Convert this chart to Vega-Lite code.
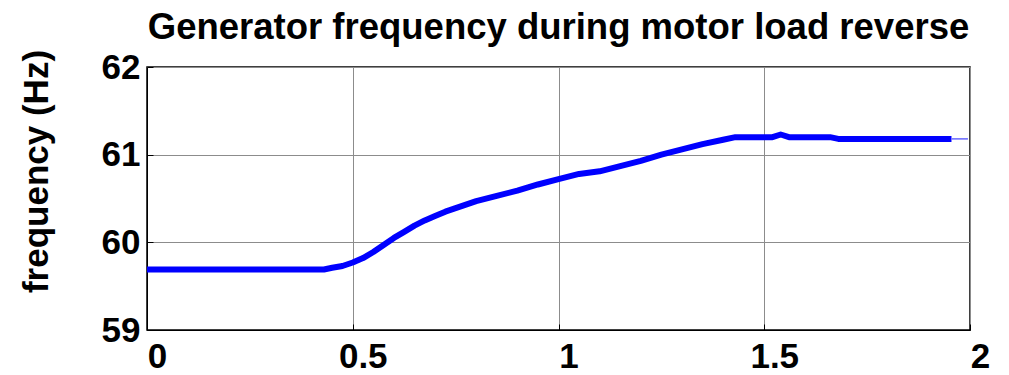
{
  "$schema": "https://vega.github.io/schema/vega-lite/v6.json",
  "autosize": {"type": "none"},
  "padding": {"left": 147, "top": 67, "right": 39, "bottom": 45},
  "width": 823,
  "height": 263,
  "background": "white",
  "title": {
    "text": "Generator frequency during motor load reverse",
    "font": "Liberation Sans",
    "fontSize": 36.5,
    "fontWeight": "bold",
    "color": "black",
    "anchor": "middle",
    "baseline": "alphabetic",
    "offset": 14,
    "dy": 40
  },
  "datasets": {
    "thick": [
      {"t": 0, "f": 59.69},
      {"t": 0.43, "f": 59.69},
      {"t": 0.45, "f": 59.71},
      {"t": 0.475, "f": 59.73},
      {"t": 0.5, "f": 59.77},
      {"t": 0.525, "f": 59.82},
      {"t": 0.55, "f": 59.89},
      {"t": 0.575, "f": 59.97},
      {"t": 0.6, "f": 60.05},
      {"t": 0.625, "f": 60.12},
      {"t": 0.65, "f": 60.19},
      {"t": 0.675, "f": 60.25},
      {"t": 0.7, "f": 60.30},
      {"t": 0.725, "f": 60.35},
      {"t": 0.75, "f": 60.39},
      {"t": 0.775, "f": 60.43},
      {"t": 0.8, "f": 60.47},
      {"t": 0.85, "f": 60.53},
      {"t": 0.9, "f": 60.59},
      {"t": 0.95, "f": 60.66},
      {"t": 1.0, "f": 60.72},
      {"t": 1.05, "f": 60.78},
      {"t": 1.1, "f": 60.81},
      {"t": 1.15, "f": 60.87},
      {"t": 1.2, "f": 60.93},
      {"t": 1.25, "f": 61.0},
      {"t": 1.3, "f": 61.06},
      {"t": 1.35, "f": 61.12},
      {"t": 1.4, "f": 61.17},
      {"t": 1.43, "f": 61.2},
      {"t": 1.52, "f": 61.2},
      {"t": 1.54, "f": 61.23},
      {"t": 1.56, "f": 61.2},
      {"t": 1.66, "f": 61.2},
      {"t": 1.68, "f": 61.18},
      {"t": 1.955, "f": 61.18}
    ],
    "thin": [
      {"t": 1.955, "f": 61.18},
      {"t": 1.995, "f": 61.18}
    ]
  },
  "config": {
    "view": {"stroke": "black", "strokeWidth": 1.5},
    "axis": {
      "labelFont": "Liberation Sans",
      "labelFontSize": 35,
      "labelFontWeight": "bold",
      "labelColor": "black",
      "titleFont": "Liberation Sans",
      "titleFontSize": 35,
      "titleFontWeight": "bold",
      "titleColor": "black",
      "domainColor": "black",
      "tickColor": "black",
      "gridColor": "#8c8c8c",
      "gridWidth": 1,
      "gridOpacity": 1
    }
  },
  "encoding": {
    "x": {
      "field": "t", "type": "quantitative",
      "scale": {"domain": [0, 2], "nice": false, "zero": false},
      "axis": {
        "values": [0, 0.5, 1, 1.5, 2],
        "format": "~g",
        "title": null,
        "grid": true,
        "tickSize": -6,
        "labelPadding": 15,
        "labelOffset": 10,
        "labelFlush": false,
        "labelOverlap": false
      }
    },
    "y": {
      "field": "f", "type": "quantitative",
      "scale": {"domain": [59, 62], "nice": false, "zero": false},
      "axis": {
        "values": [59, 60, 61, 62],
        "title": "frequency (Hz)",
        "grid": true,
        "tickSize": -6,
        "labelPadding": 13,
        "labelFlush": false,
        "labelOverlap": false,
        "titleAngle": -90,
        "titleX": -100,
        "titleY": 104,
        "titleAlign": "center",
        "titleBaseline": "alphabetic"
      }
    }
  },
  "layer": [
    {
      "data": {"name": "thick"},
      "mark": {"type": "line", "color": "#0000ff", "strokeWidth": 6, "strokeJoin": "round", "strokeCap": "butt"}
    },
    {
      "data": {"name": "thin"},
      "mark": {"type": "line", "color": "#6666ff", "strokeWidth": 1.5}
    }
  ]
}
